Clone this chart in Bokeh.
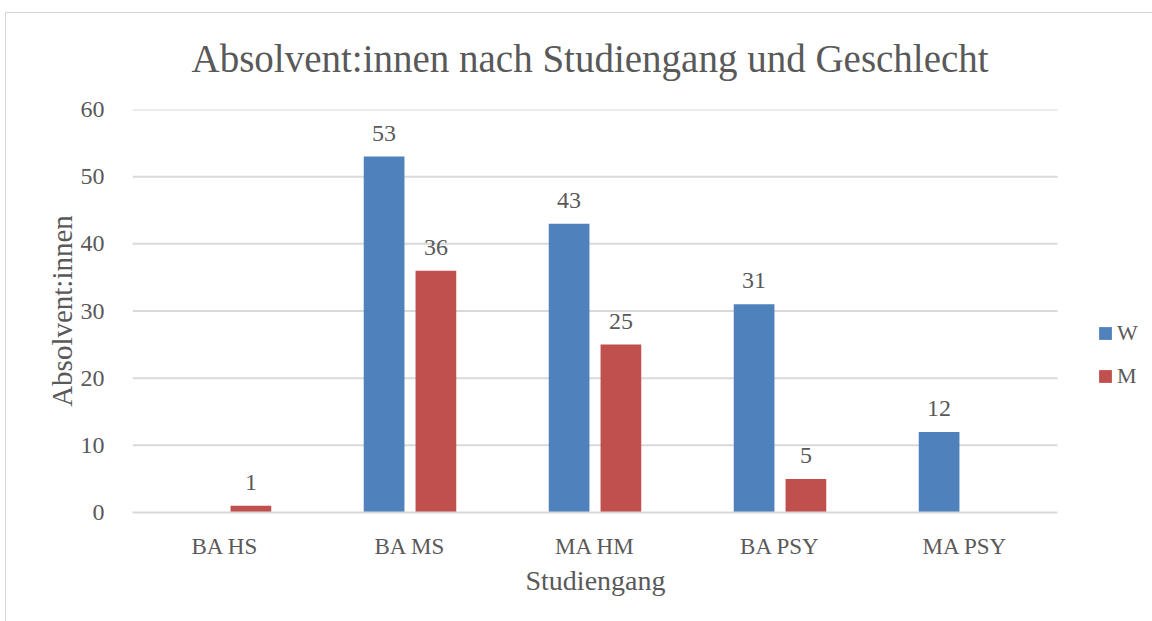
from bokeh.plotting import figure
from bokeh.models import (ColumnDataSource, Range1d, LabelSet, Legend, LegendItem, FixedTicker,
                          Title, InlineStyleSheet)
from bokeh.transform import dodge
from bokeh.embed import file_html
from bokeh.resources import INLINE

categories = ["BA HS", "BA MS", "MA HM", "BA PSY", "MA PSY"]
w_values = [0, 53, 43, 31, 12]
m_values = [1, 36, 25, 5, 0]
y_ticks = [0, 10, 20, 30, 40, 50, 60]

FONT = "Liberation Serif"
TXT = "#595959"
GRID = "#D9D9D9"
BLUE = "#4F81BD"
RED = "#C0504D"

idx = list(range(len(categories)))
src = ColumnDataSource(dict(x=idx, cat=categories, w=w_values, m=m_values))
w_lab = ColumnDataSource(dict(x=[i for i, v in zip(idx, w_values) if v],
                              v=[v for v in w_values if v],
                              t=[str(v) for v in w_values if v]))
m_lab = ColumnDataSource(dict(x=[i for i, v in zip(idx, m_values) if v],
                              v=[v for v in m_values if v],
                              t=[str(v) for v in m_values if v]))
grid_src = ColumnDataSource(dict(y=y_ticks[1:], x0=[-0.5] * (len(y_ticks) - 1),
                                 x1=[len(categories) - 0.5] * (len(y_ticks) - 1)))

# plot area extends to the right edge so the legend (drawn inside it) is not clipped
x_end = len(categories) - 0.5 + 95 / 185

p = figure(width=1152, height=621, x_range=Range1d(-0.5, x_end),
           y_range=Range1d(0, 60), output_backend="svg", toolbar_location=None,
           min_border_left=132, min_border_right=0, min_border_top=109, min_border_bottom=109,
           title="Absolvent:innen nach Studiengang und Geschlecht")
p.outline_line_color = None
p.background_fill_color = "white"
p.border_fill_color = "white"
p.stylesheets = [InlineStyleSheet(css="""
:host::after { content: ""; position: absolute; left: 5px; top: 12px; right: 0; bottom: 0;
  border-left: 1px solid #D6D6D6; border-top: 1px solid #D6D6D6; pointer-events: none; }
""")]

p.title.align = "left"
p.title.offset = 59
p.title.text_font = FONT
p.title.text_font_size = "39px"
p.title.text_font_style = "normal"
p.title.text_color = TXT
p.title.standoff = 59

p.xgrid.grid_line_color = None
p.ygrid.grid_line_color = None
p.segment(x0="x0", x1="x1", y0="y", y1="y", source=grid_src, line_color=GRID, line_width=2)

rw = p.vbar(x=dodge("x", -0.14), top="w", width=0.22, source=src,
            fill_color=BLUE, line_color=None)
rm = p.vbar(x=dodge("x", 0.14), top="m", width=0.22, source=src,
            fill_color=RED, line_color=None)

for s, off in ((w_lab, -0.14), (m_lab, 0.14)):
    p.add_layout(LabelSet(x=dodge("x", off), y="v", text="t", source=s,
                          text_align="center", text_baseline="bottom", y_offset=16,
                          text_font=FONT, text_font_size="24px", text_color=TXT))

p.yaxis.ticker = y_ticks
p.yaxis.axis_line_color = None
p.yaxis.major_tick_line_color = None
p.yaxis.minor_tick_line_color = None
p.yaxis.major_label_standoff = 22
p.yaxis.major_label_text_font = FONT
p.yaxis.major_label_text_font_size = "24px"
p.yaxis.major_label_text_color = TXT
p.yaxis.axis_label = "Absolvent:innen"
p.yaxis.axis_label_text_font = FONT
p.yaxis.axis_label_text_font_size = "29px"
p.yaxis.axis_label_text_font_style = "normal"
p.yaxis.axis_label_text_color = TXT
p.yaxis.axis_label_standoff = 0

p.xaxis.ticker = FixedTicker(ticks=idx)
p.xaxis.major_label_overrides = {i: c for i, c in zip(idx, categories)}
p.xaxis.bounds = (-0.5, len(categories) - 0.5)
p.xaxis.axis_line_color = GRID
p.xaxis.axis_line_width = 2
p.xaxis.major_tick_line_color = None
p.xaxis.minor_tick_line_color = None
p.xaxis.major_label_standoff = 15
p.xaxis.major_label_text_font = FONT
p.xaxis.major_label_text_font_size = "23px"
p.xaxis.major_label_text_color = TXT

# x-axis title, centred under the five categories (not under the legend area)
p.add_layout(Title(text="Studiengang", align="left", offset=393, standoff=2,
                   text_font=FONT, text_font_size="28px", text_font_style="normal",
                   text_color=TXT), "below")

legend = Legend(items=[LegendItem(label="W", renderers=[rw]), LegendItem(label="M", renderers=[rm])],
                location=(965, 123), padding=0, margin=0, spacing=17,
                glyph_width=16, glyph_height=16, label_height=16, label_standoff=4,
                label_text_font=FONT, label_text_font_size="22px", label_text_color=TXT,
                border_line_color=None, background_fill_alpha=0)
p.add_layout(legend, "center")

open("out.html", "w").write(file_html(p, INLINE))
